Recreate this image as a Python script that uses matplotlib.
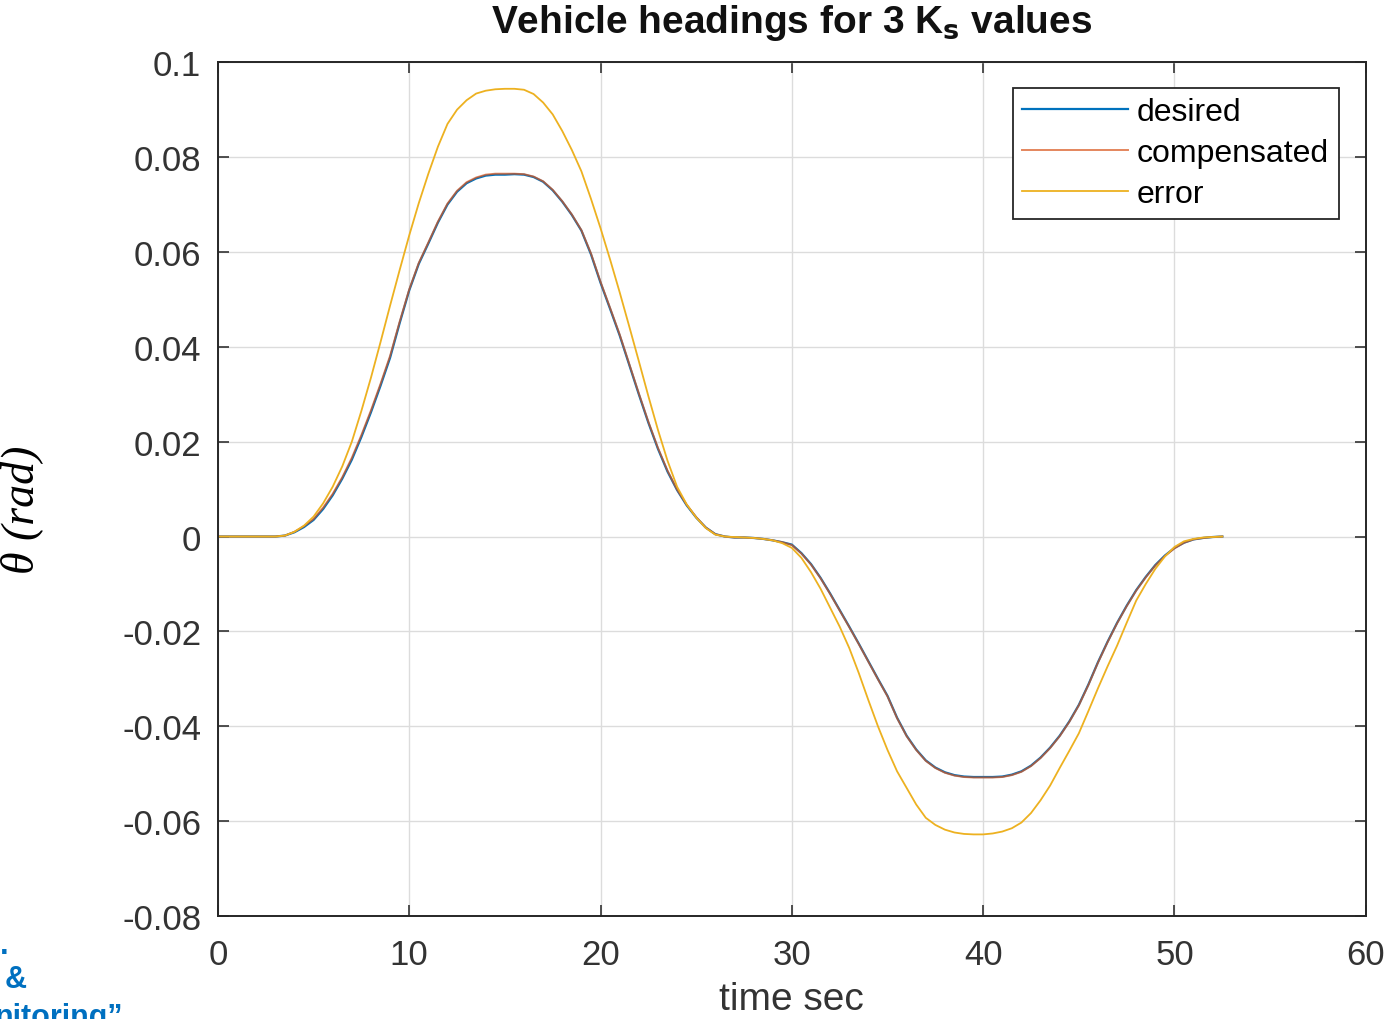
import matplotlib
matplotlib.use("Agg")
import matplotlib.pyplot as plt

plt.rcParams['font.family'] = ['Liberation Sans', 'DejaVu Sans']
plt.rcParams['axes.unicode_minus'] = False

# time axis (s), one sample every half second
t = [0, 0.5, 1, 1.5, 2, 2.5, 3, 3.5, 4, 4.5,
     5, 5.5, 6, 6.5, 7, 7.5, 8, 8.5, 9, 9.5,
     10, 10.5, 11, 11.5, 12, 12.5, 13, 13.5, 14, 14.5,
     15, 15.5, 16, 16.5, 17, 17.5, 18, 18.5, 19, 19.5,
     20, 20.5, 21, 21.5, 22, 22.5, 23, 23.5, 24, 24.5,
     25, 25.5, 26, 26.5, 27, 27.5, 28, 28.5, 29, 29.5,
     30, 30.5, 31, 31.5, 32, 32.5, 33, 33.5, 34, 34.5,
     35, 35.5, 36, 36.5, 37, 37.5, 38, 38.5, 39, 39.5,
     40, 40.5, 41, 41.5, 42, 42.5, 43, 43.5, 44, 44.5,
     45, 45.5, 46, 46.5, 47, 47.5, 48, 48.5, 49, 49.5,
     50, 50.5, 51, 51.5, 52, 52.5]

desired = [0, 0, 0, 0, 0, 0, 0, 0.0002, 0.0009, 0.0020,
           0.0035, 0.0058, 0.0087, 0.0122, 0.0162, 0.0210, 0.0262, 0.0318, 0.0377, 0.0450,
           0.0519, 0.0575, 0.0618, 0.0662, 0.0700, 0.0727, 0.0745, 0.0755, 0.0761, 0.0763,
           0.0763, 0.0764, 0.0763, 0.0758, 0.0748, 0.0730, 0.0706, 0.0678, 0.0645, 0.0595,
           0.0535, 0.0480, 0.0424, 0.0362, 0.0300, 0.0240, 0.0185, 0.0137, 0.0098, 0.0066,
           0.0040, 0.0019, 0.0005, 0.0000, -0.0002, -0.0002, -0.0003, -0.0005, -0.0008, -0.0012,
           -0.0017, -0.0035, -0.0058, -0.0087, -0.0120, -0.0155, -0.0190, -0.0226, -0.0263, -0.0300,
           -0.0336, -0.0382, -0.0420, -0.0449, -0.0472, -0.0487, -0.0497, -0.0503, -0.0506, -0.0507,
           -0.0507, -0.0507, -0.0506, -0.0502, -0.0495, -0.0483, -0.0466, -0.0445, -0.0420, -0.0390,
           -0.0355, -0.0312, -0.0265, -0.0222, -0.0182, -0.0146, -0.0113, -0.0085, -0.0060, -0.0040,
           -0.0024, -0.0013, -0.0006, -0.0003, -0.0001, 0]

compensated = [0, 0, 0, 0, 0, 0, 0, 0.0002, 0.0010, 0.0022,
               0.0037, 0.0061, 0.0090, 0.0125, 0.0166, 0.0214, 0.0266, 0.0322, 0.0381, 0.0453,
               0.0521, 0.0577, 0.0620, 0.0664, 0.0702, 0.0729, 0.0747, 0.0757, 0.0763, 0.0765,
               0.0765, 0.0765, 0.0764, 0.0759, 0.0749, 0.0731, 0.0707, 0.0679, 0.0646, 0.0597,
               0.0537, 0.0482, 0.0426, 0.0364, 0.0302, 0.0242, 0.0187, 0.0139, 0.0099, 0.0067,
               0.0041, 0.0019, 0.0005, 0.0000, -0.0002, -0.0002, -0.0003, -0.0005, -0.0008, -0.0012,
               -0.0018, -0.0036, -0.0059, -0.0088, -0.0121, -0.0156, -0.0191, -0.0227, -0.0264, -0.0301,
               -0.0337, -0.0383, -0.0421, -0.0450, -0.0473, -0.0488, -0.0498, -0.0504, -0.0507, -0.0508,
               -0.0508, -0.0508, -0.0507, -0.0503, -0.0496, -0.0484, -0.0467, -0.0446, -0.0421, -0.0391,
               -0.0356, -0.0313, -0.0266, -0.0223, -0.0183, -0.0147, -0.0114, -0.0086, -0.0061, -0.0041,
               -0.0025, -0.0013, -0.0006, -0.0003, -0.0001, 0]

error = [0, 0, 0, 0, 0, 0, 0, 0.0002, 0.0010, 0.0023,
         0.0042, 0.0070, 0.0105, 0.0148, 0.0200, 0.0265, 0.0335, 0.0410, 0.0487, 0.0562,
         0.0635, 0.0703, 0.0765, 0.0822, 0.0870, 0.0900, 0.0920, 0.0934, 0.0940, 0.0943,
         0.0944, 0.0944, 0.0942, 0.0933, 0.0915, 0.0890, 0.0855, 0.0815, 0.0770, 0.0712,
         0.0650, 0.0584, 0.0515, 0.0443, 0.0370, 0.0296, 0.0225, 0.0160, 0.0105, 0.0068,
         0.0040, 0.0018, 0.0004, 0.0000, -0.0001, -0.0002, -0.0003, -0.0005, -0.0008, -0.0014,
         -0.0024, -0.0045, -0.0075, -0.0110, -0.0150, -0.0190, -0.0235, -0.0288, -0.0345, -0.0400,
         -0.0450, -0.0495, -0.0530, -0.0565, -0.0593, -0.0608, -0.0618, -0.0624, -0.0627, -0.0628,
         -0.0628, -0.0626, -0.0622, -0.0615, -0.0603, -0.0583, -0.0556, -0.0525, -0.0488, -0.0452,
         -0.0415, -0.0368, -0.0320, -0.0274, -0.0230, -0.0182, -0.0135, -0.0100, -0.0068, -0.0042,
         -0.0022, -0.0010, -0.0005, -0.0002, -0.0001, 0]

x_ticks = [0, 10, 20, 30, 40, 50, 60]
y_ticks = [-0.08, -0.06, -0.04, -0.02, 0, 0.02, 0.04, 0.06, 0.08, 0.1]
y_tick_labels = ['-0.08', '-0.06', '-0.04', '-0.02', '0', '0.02', '0.04',
                 '0.06', '0.08', '0.1']

fig = plt.figure(figsize=(13.88, 10.2), dpi=100)
ax = fig.add_axes([0.157, 0.101, 0.827, 0.837])

ax.plot(t, desired, color='#0072BD', lw=1.6, label='desired')
ax.plot(t, compensated, color='#D95319', lw=1.4, alpha=0.7, label='compensated')
ax.plot(t, error, color='#EDB120', lw=1.3, label='error')

ax.set_xlim(0, 60)
ax.set_ylim(-0.08, 0.1)
ax.set_xticks(x_ticks)
ax.set_yticks(y_ticks)
ax.set_yticklabels(y_tick_labels)
ax.tick_params(direction='in', length=8, width=1.2, top=True, right=True,
               labelsize=25, colors='#333333', pad=12)
ax.tick_params(axis='x', pad=16)
ax.grid(True, color='#dcdcdc', lw=1.0)
for s in ax.spines.values():
    s.set_color('#262626')
    s.set_linewidth(1.4)

ax.set_title(r'Vehicle headings for 3 K$_\mathbf{s}$ values', fontsize=28,
             fontweight='bold', pad=22, color='#111111')
ax.set_xlabel('time sec', fontsize=28, color='#333333', labelpad=7)
ax.set_ylabel('θ (rad)', fontsize=33, family='Liberation Serif',
              style='italic', color='black')
ax.yaxis.set_label_coords(-0.152, 0.477)

leg = ax.legend(loc='upper right', bbox_to_anchor=(0.9765, 0.97), fontsize=23,
                fancybox=False, framealpha=1, edgecolor='#262626',
                handlelength=3.3, borderpad=0.3, labelspacing=0.34,
                handletextpad=0.3, borderaxespad=0)
leg.get_frame().set_linewidth(1.3)

# cropped slide text at the bottom-left corner
fig.text(0.0, 0.065, '.', fontsize=22, fontweight='bold', color='#0070C0')
fig.text(0.003, 0.031, '&', fontsize=22, fontweight='bold', color='#0070C0')
fig.text(-0.004, -0.006, 'nitoring”', fontsize=22, fontweight='bold',
         color='#0070C0')

fig.savefig('out.png', dpi=100)
